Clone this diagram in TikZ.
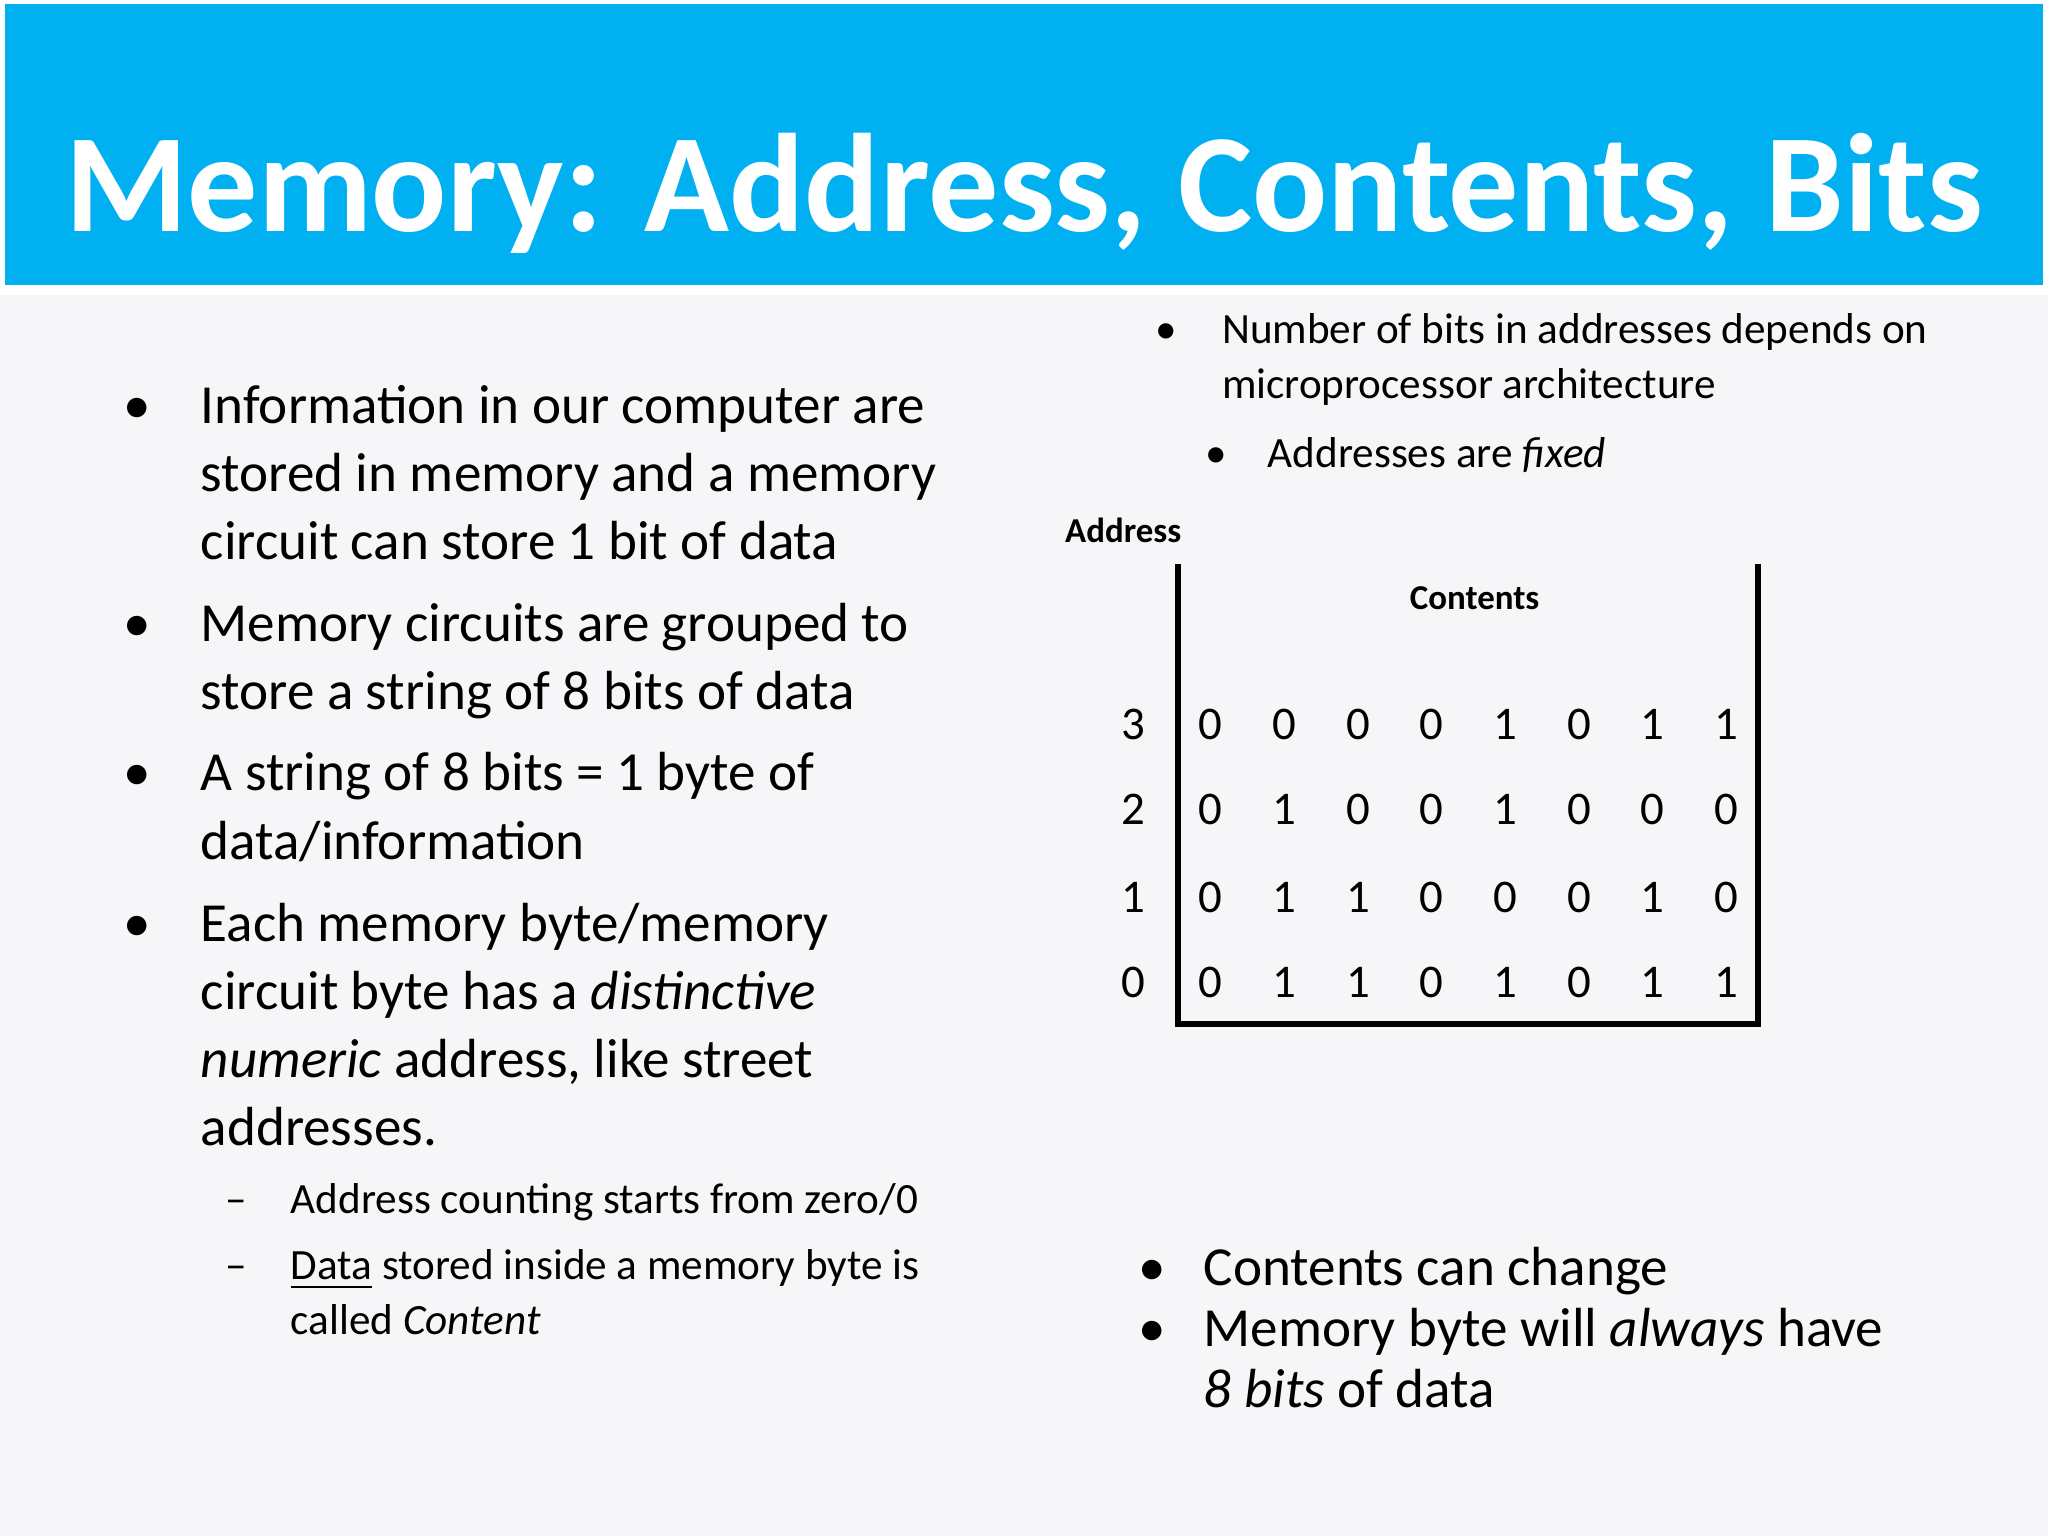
\documentclass[tikz,border=0pt]{standalone}
\usepackage{fontspec}
\setmainfont{Carlito}
\definecolor{band}{HTML}{00B0F0}
\definecolor{bg}{HTML}{F6F6F8}
\begin{document}
\begin{tikzpicture}[x=0.01cm,y=-0.01cm,
  big/.style={anchor=base west,inner sep=0,font=\fontsize{12}{14}\selectfont},
  sm/.style={anchor=base west,inner sep=0,font=\fontsize{9.4}{11}\selectfont},
  dig/.style={inner sep=0,font=\fontsize{10.2}{12}\selectfont},
  lab/.style={inner sep=0,font=\bfseries\fontsize{7.6}{9}\selectfont}]
\fill[bg] (0,0) rectangle (1568,1176);
\useasboundingbox (0,0) rectangle (1568,1176);
\fill[white] (0,0) rectangle (1568,226);
\fill[band] (4,3) rectangle (1564,218);
\node[inner sep=0,text=white,font=\bfseries\fontsize{30.5}{34}\selectfont] (title) at (784,148) {Memory: Address, Contents, Bits};
% left bullets
\foreach \y in {324,491,605,721} \node[big] at (94,\y) {•};
\node[big] (l1) at (153,324) {Information in our computer are};
\node[big] (l2) at (153,376) {stored in memory and a memory};
\node[big] (l3) at (153,428) {circuit can store 1 bit of data};
\node[big] (l4) at (153,491) {Memory circuits are grouped to};
\node[big] (l5) at (153,543) {store a string of 8 bits of data};
\node[big] (l6) at (153,605) {A string of 8 bits = 1 byte of};
\node[big] (l7) at (153,658) {data/information};
\node[big] (l8) at (153,721) {Each memory byte/memory};
\node[big] (l9) at (153,773) {circuit byte has a \textit{distinctive}};
\node[big] (l10) at (153,825) {\textit{numeric} address, like street};
\node[big] (l11) at (153,877) {addresses.};
\node[sm] at (172,929) {–};
\node[sm] at (172,980) {–};
\node[sm] (s1) at (222,929) {Address counting starts from zero/0};
\node[sm] (s2) at (222,980) {\underline{Data} stored inside a memory byte is};
\node[sm] (s3) at (222,1022) {called \textit{Content}};
% right top
\node[sm] at (884,263) {•};
\node[sm] (r1) at (935,263) {Number of bits in addresses depends on};
\node[sm] (r2) at (935,305) {microprocessor architecture};
\node[sm] at (922,358) {•};
\node[sm] (r3) at (970,358) {Addresses are \textit{fixed}};
\node[lab] (addr) at (860,406) {Address};
\node[lab] (cont) at (1129,458) {Contents};
% grid
\draw[line width=1.2pt] (902,432) -- (902,784) -- (1346,784) -- (1346,432);
\foreach \a/\y/\bits in {3/555/{0,0,0,0,1,0,1,1},2/620/{0,1,0,0,1,0,0,0},1/687/{0,1,1,0,0,0,1,0},0/752/{0,1,1,0,1,0,1,1}}{
  \node[dig] at (868,\y) {\a};
  \foreach \b [count=\i] in \bits \node[dig] at ({927+(\i-1)*56.4},\y) {\b};
}
% right bottom
\foreach \y in {984,1031} \node[big] at (871,\y) {•};
\node[big] (b1) at (921,984) {Contents can change};
\node[big] (b2) at (921,1031) {Memory byte will \textit{always} have};
\node[big] (b3) at (921,1078) {\textit{8 bits} of data};
\end{tikzpicture}
\end{document}
